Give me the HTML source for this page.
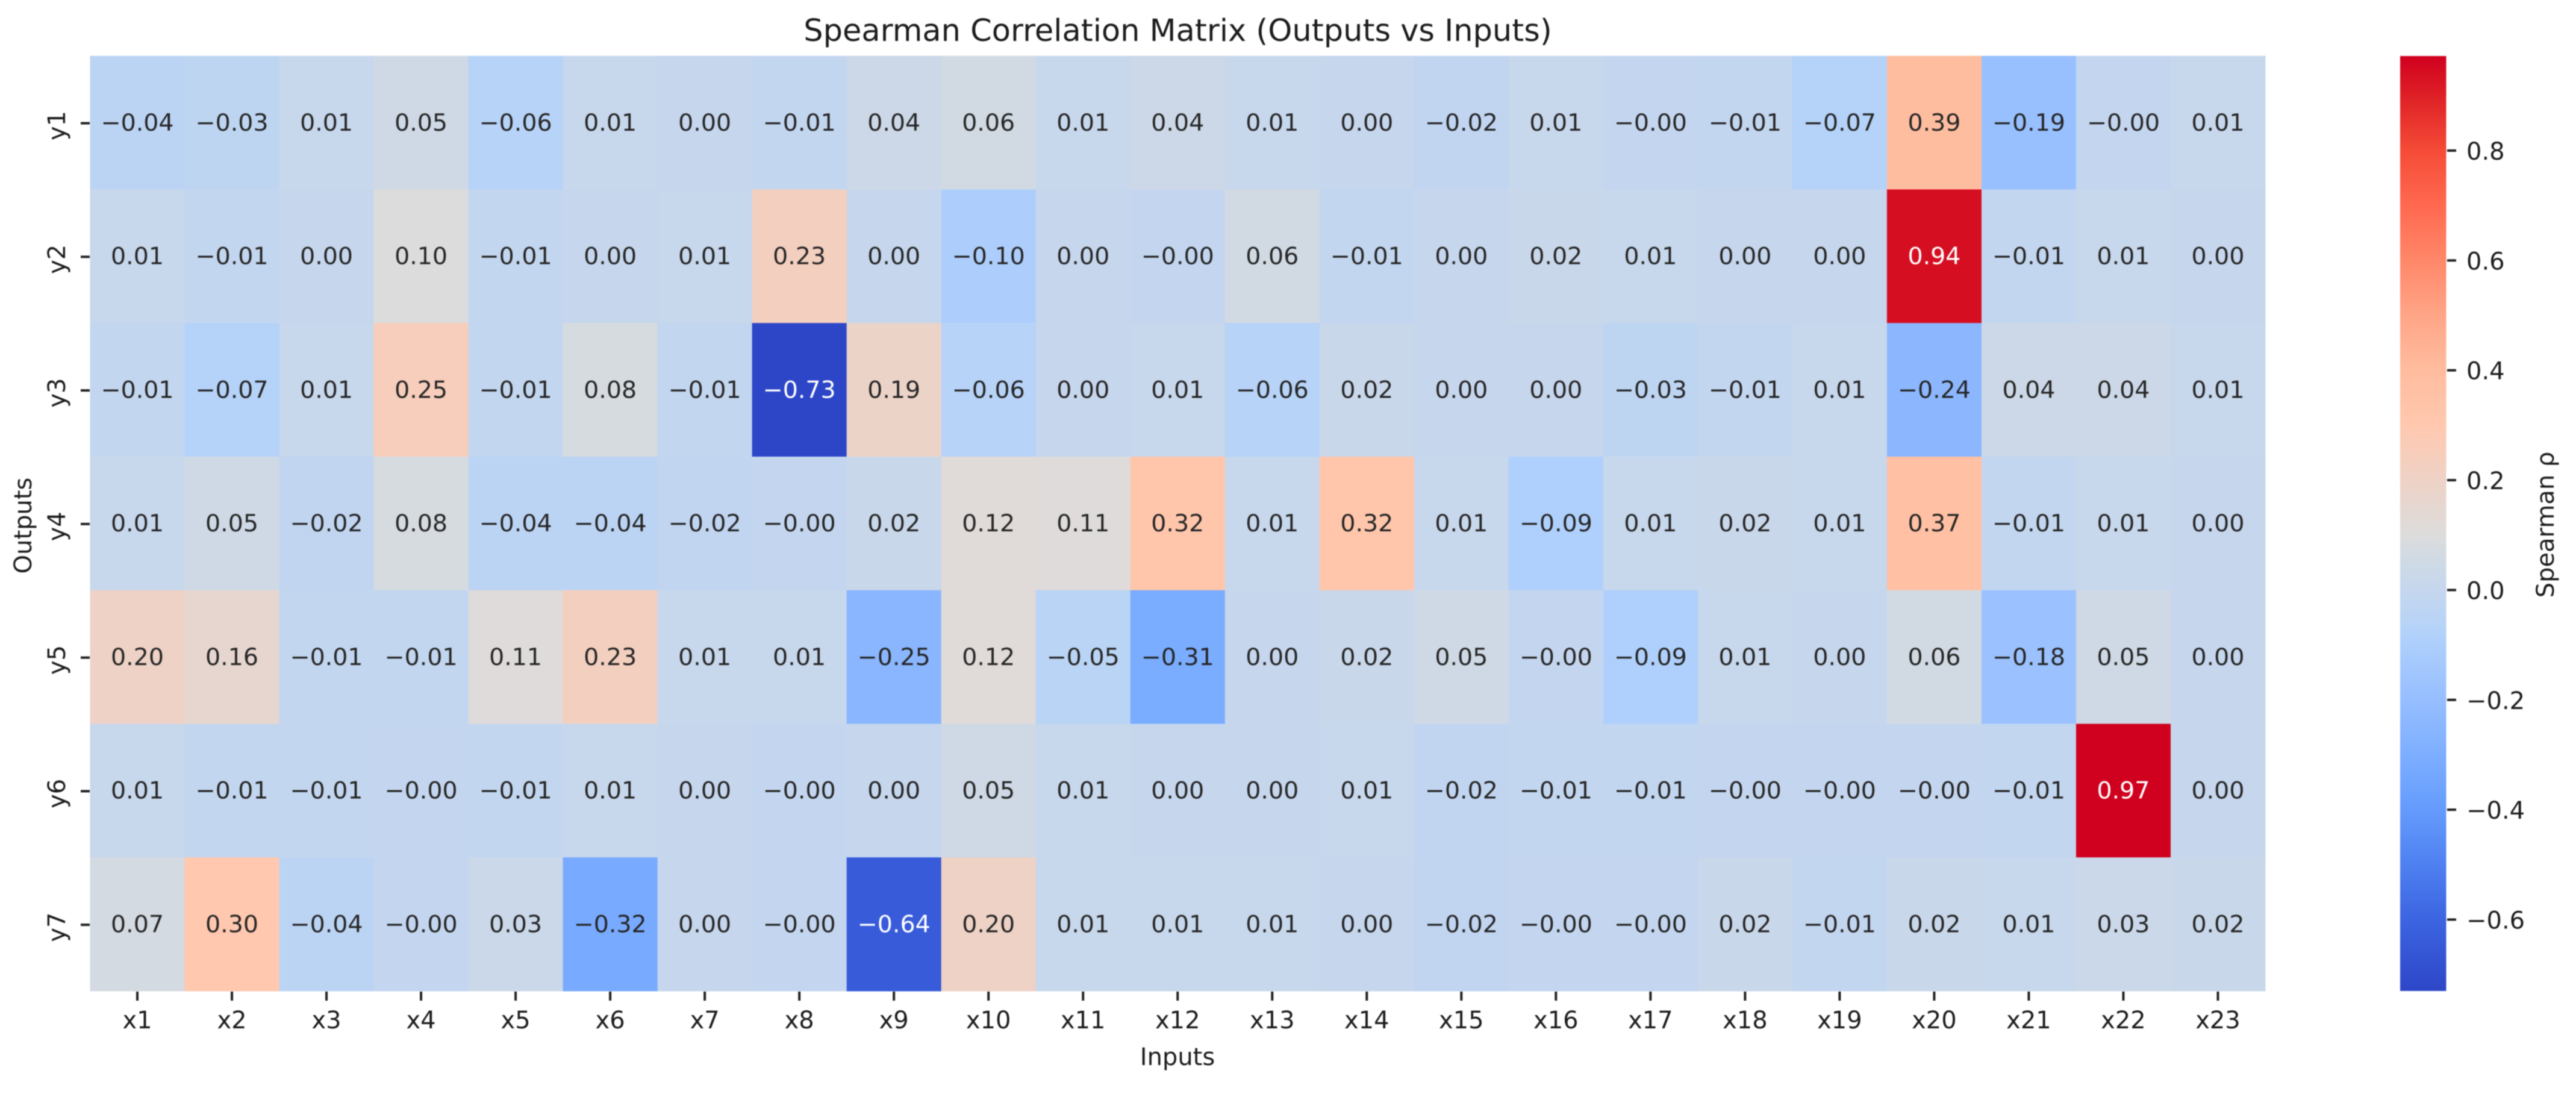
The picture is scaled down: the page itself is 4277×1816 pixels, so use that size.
<!DOCTYPE html>
<html lang="en">
<head>
<meta charset="utf-8">
<title>Spearman Correlation Matrix (Outputs vs Inputs)</title>
<style>
html,body{margin:0;padding:0;background:#fff;width:4277px;height:1816px;overflow:hidden}
svg{display:block;filter:blur(0.9px)}
text{font-family:"DejaVu Sans","Liberation Sans",sans-serif;fill:#1c1c1c}
</style>
</head>
<body>
<svg id="chart" xmlns="http://www.w3.org/2000/svg" width="4277" height="1816" viewBox="0 0 4277 1816">
  <rect x="0" y="0" width="4277" height="1816" fill="#ffffff"/>
  <defs><linearGradient id="cbar-grad" x1="0" y1="1" x2="0" y2="0"></linearGradient></defs>
  <text x="1955.5" y="68" font-size="51" text-anchor="middle">Spearman Correlation Matrix (Outputs vs Inputs)</text>
  <g id="cells"></g>
  <g id="xticks"></g>
  <g id="yticks"></g>
  <text x="1955" y="1768" font-size="40" text-anchor="middle">Inputs</text>
  <text transform="translate(52,872.5) rotate(-90)" font-size="40" text-anchor="middle">Outputs</text>
  <rect id="cbar" x="3985" y="93" width="76.5" height="1552" fill="url(#cbar-grad)"/>
  <g id="cbarticks"></g>
  <text transform="translate(4240,871) rotate(-90)" font-size="40" text-anchor="middle">Spearman ρ</text>
</svg>
<script>
const inputs = ["x1","x2","x3","x4","x5","x6","x7","x8","x9","x10","x11","x12","x13","x14","x15","x16","x17","x18","x19","x20","x21","x22","x23"];
const outputs = ["y1","y2","y3","y4","y5","y6","y7"];
const y1Values = [-0.04,-0.03,0.01,0.05,-0.06,0.01,0.004,-0.01,0.04,0.06,0.01,0.04,0.01,0.004,-0.02,0.01,-0.004,-0.01,-0.07,0.39,-0.19,-0.004,0.01];
const y2Values = [0.01,-0.01,0.004,0.10,-0.01,0.004,0.01,0.23,0.004,-0.10,0.004,-0.004,0.06,-0.01,0.004,0.02,0.01,0.004,0.004,0.94,-0.01,0.01,0.004];
const y3Values = [-0.01,-0.07,0.01,0.25,-0.01,0.08,-0.01,-0.73,0.19,-0.06,0.004,0.01,-0.06,0.02,0.004,0.004,-0.03,-0.01,0.01,-0.24,0.04,0.04,0.01];
const y4Values = [0.01,0.05,-0.02,0.08,-0.04,-0.04,-0.02,-0.004,0.02,0.12,0.11,0.32,0.01,0.32,0.01,-0.09,0.01,0.02,0.01,0.37,-0.01,0.01,0.004];
const y5Values = [0.20,0.16,-0.01,-0.01,0.11,0.23,0.01,0.01,-0.25,0.12,-0.05,-0.31,0.004,0.02,0.05,-0.004,-0.09,0.01,0.004,0.06,-0.18,0.05,0.004];
const y6Values = [0.01,-0.01,-0.01,-0.004,-0.01,0.01,0.004,-0.004,0.004,0.05,0.01,0.004,0.004,0.01,-0.02,-0.01,-0.01,-0.004,-0.004,-0.004,-0.01,0.97,0.004];
const y7Values = [0.07,0.30,-0.04,-0.004,0.03,-0.32,0.004,-0.004,-0.64,0.20,0.01,0.01,0.01,0.004,-0.02,-0.004,-0.004,0.02,-0.01,0.02,0.01,0.03,0.02];
const colorbarTicks = [0.8,0.6,0.4,0.2,0.0,-0.2,-0.4,-0.6];

const matrix = [y1Values,y2Values,y3Values,y4Values,y5Values,y6Values,y7Values];
const NS = "http://www.w3.org/2000/svg";
const plot = {left:149.5,right:3761,top:92.7,bottom:1645};
const scaleMin = -0.73, scaleMax = 0.9725;
const colorStops = [
 [-0.73,45,70,200],[-0.6,60,100,225],[-0.5,78,128,240],[-0.4,100,155,252],[-0.31,122,172,255],
 [-0.2,150,190,255],[-0.09,175,208,252],[-0.05,186,212,245],[0,197,214,238],[0.05,206,217,229],
 [0.1,220,220,220],[0.2,238,210,198],[0.3,255,200,175],[0.4,255,188,158],[0.5,255,165,135],
 [0.6,255,135,105],[0.7,255,105,80],[0.8,245,75,55],[0.9,222,32,38],[0.9725,208,0,30]];

function xScale(i){return plot.left+i*(plot.right-plot.left)/inputs.length;}
function yScale(j){return plot.top+j*(plot.bottom-plot.top)/outputs.length;}
function cbarY(v){return plot.bottom-(v-scaleMin)/(scaleMax-scaleMin)*(plot.bottom-plot.top);}
function colorRgb(v){
  if(v<=colorStops[0][0]){return colorStops[0].slice(1);}
  for(let k=1;k<colorStops.length;k++){
    const a=colorStops[k-1],b=colorStops[k];
    if(v<=b[0]){
      const t=(v-a[0])/(b[0]-a[0]);
      return [a[1]+t*(b[1]-a[1]),a[2]+t*(b[2]-a[2]),a[3]+t*(b[3]-a[3])];
    }
  }
  return colorStops[colorStops.length-1].slice(1);
}
function colorCss(v){const c=colorRgb(v);return "rgb("+c.map(Math.round).join(",")+")";}
function fmt(v,d){return v.toFixed(d).replace("-","\u2212");}
function textFill(v){const c=colorRgb(v);return (0.299*c[0]+0.587*c[1]+0.114*c[2])<115?"#ffffff":"#262626";}
function mk(parent,tag,attrs,txt){
  const el=document.createElementNS(NS,tag);
  for(const k in attrs){el.setAttribute(k,attrs[k]);}
  if(txt!==undefined){el.textContent=txt;}
  parent.appendChild(el);
  return el;
}

const grad=document.getElementById("cbar-grad");
colorStops.forEach(function(s){
  mk(grad,"stop",{offset:(s[0]-scaleMin)/(scaleMax-scaleMin),"stop-color":"rgb("+s[1]+","+s[2]+","+s[3]+")"});
});

const cellsG=document.getElementById("cells");
const cw=(plot.right-plot.left)/inputs.length, ch=(plot.bottom-plot.top)/outputs.length;
matrix.forEach(function(row,j){
  row.forEach(function(v,i){
    const rect=mk(cellsG,"rect",{x:xScale(i),y:yScale(j),width:cw+0.5,height:ch+0.5,fill:colorCss(v)});
    
    
  });
});
matrix.forEach(function(row,j){
  row.forEach(function(v,i){
    const label=mk(cellsG,"text",{x:xScale(i)+cw/2,y:yScale(j)+ch/2+13.3,"font-size":39.5,"text-anchor":"middle",style:"fill:"+textFill(v)},fmt(v,2));
    
    
  });
});

const xG=document.getElementById("xticks");
inputs.forEach(function(name,i){
  const cx=xScale(i)+cw/2;
  const tick=mk(xG,"rect",{x:cx-2,y:plot.bottom+1,width:4,height:15,fill:"#222"});
  
  
  const label=mk(xG,"text",{x:cx,y:1707,"font-size":40,"text-anchor":"middle"},name);
  
  
});

const yG=document.getElementById("yticks");
outputs.forEach(function(name,j){
  const cy=yScale(j)+ch/2;
  const tick=mk(yG,"rect",{x:134,y:cy-1,width:15,height:4,fill:"#222"});
  
  
  const label=mk(yG,"text",{transform:"translate(108,"+(cy+5)+") rotate(-90)","font-size":40,"text-anchor":"middle"},name);
  
  
});

const cG=document.getElementById("cbarticks");
colorbarTicks.forEach(function(v){
  const cy=cbarY(v);
  const tick=mk(cG,"rect",{x:4063,y:cy-2,width:15,height:4,fill:"#222"});
  
  
  const label=mk(cG,"text",{x:4095,y:cy+15,"font-size":40},fmt(v,1));
  
  
});
</script>
</body>
</html>
